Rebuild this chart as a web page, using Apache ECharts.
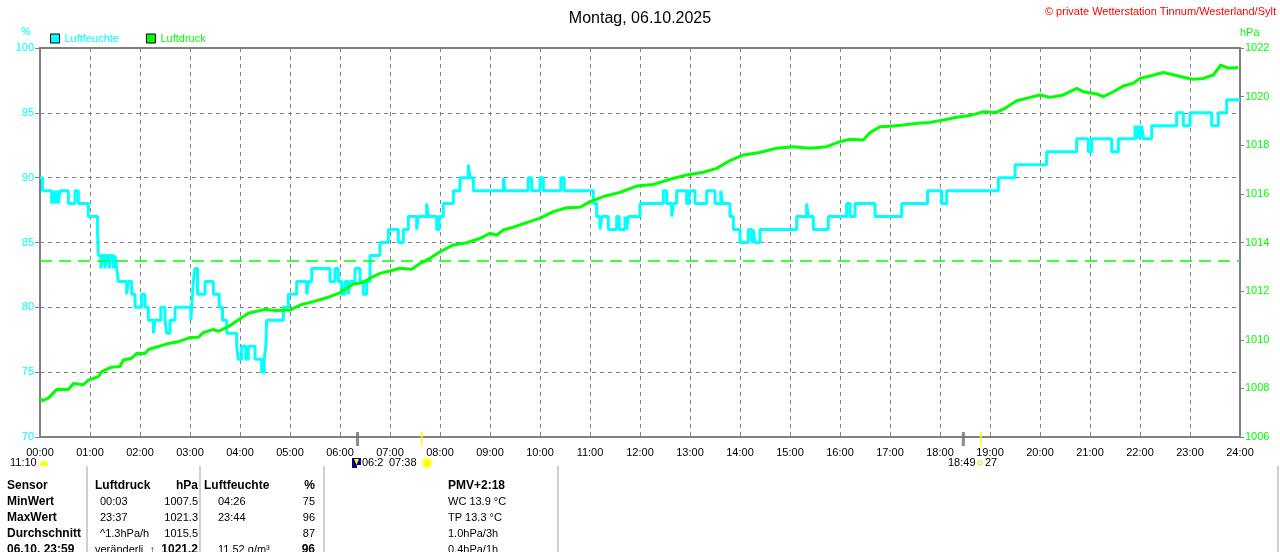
<!DOCTYPE html>
<html><head><meta charset="utf-8">
<script src="https://cdn.jsdelivr.net/npm/echarts/dist/echarts.min.js"></script>
<style>html,body{margin:0;padding:0;background:#fff}#c{width:1280px;height:552px}</style>
</head><body><div id="c"></div>
<script>
// ---- data ----
const xTickLabels = ['00:00','01:00','02:00','03:00','04:00','05:00','06:00','07:00','08:00','09:00','10:00','11:00','12:00','13:00','14:00','15:00','16:00','17:00','18:00','19:00','20:00','21:00','22:00','23:00','24:00'];
const humTicks = [70,75,80,85,90,95,100];
const presTicks = [1006,1008,1010,1012,1014,1016,1018,1020,1022];
// humidity (%) change points: minute of day -> value
const humTime = [0,3,14,16,18,20,22,24,34,42,46,58,69,70,73,75,78,80,83,85,88,90,92,94,104,106,110,114,122,126,130,136,138,145,150,152,156,162,181,182,184,186,189,198,208,215,219,224,236,238,242,247,250,258,266,269,271,272,292,298,308,320,322,326,348,354,358,362,366,370,372,378,384,388,392,396,408,418,430,436,442,452,454,464,466,476,479,484,496,504,514,516,520,556,558,586,590,600,604,625,629,664,668,672,674,682,692,695,702,704,706,720,748,752,758,760,764,776,779,786,800,810,817,819,828,832,840,850,854,856,858,864,908,920,922,928,946,968,972,978,1002,1034,1065,1082,1088,1150,1170,1208,1244,1258,1262,1286,1294,1314,1316,1318,1320,1322,1324,1334,1364,1372,1380,1406,1414,1424,1440];
const humValue = [90,89,88,89,88,89,88,89,88,89,88,87,86,84,83,84,83,84,83,84,83,84,83,82,81,82,81,80,81,80,79,78,79,80,79,78,79,80,79,80,82,83,81,82,81,80,79,78,77,76,77,76,77,76,75,76,77,79,80,81,82,81,82,83,82,83,82,81,82,81,82,83,82,81,82,84,85,86,85,86,87,86,87,88,87,86,87,88,89,90,91,90,89,90,89,90,89,90,89,90,89,88,87,86,87,86,87,86,87,86,87,88,89,88,87,88,89,88,89,88,89,88,89,88,87,86,85,86,85,86,85,86,87,88,87,86,87,88,87,88,87,88,89,88,89,90,91,92,93,92,93,92,93,94,93,94,93,94,93,94,95,94,95,94,95,96,96];
// air pressure (hPa): minute of day -> value
const presTime = [0,3,10,20,34,40,52,58,70,74,86,96,100,110,116,126,130,142,154,166,180,190,196,208,214,226,238,250,270,282,300,312,328,348,360,376,388,396,408,420,432,446,456,468,480,496,512,528,540,548,556,568,584,600,616,632,648,660,676,696,716,736,756,776,796,812,828,844,864,884,904,924,944,960,972,988,996,1008,1020,1036,1052,1068,1084,1100,1116,1132,1148,1160,1172,1188,1200,1212,1228,1244,1252,1268,1276,1288,1300,1312,1320,1332,1348,1360,1372,1384,1396,1408,1417,1426,1438];
const presValue = [1007.59,1007.5,1007.6,1007.96,1007.95,1008.2,1008.15,1008.34,1008.48,1008.69,1008.87,1008.9,1009.17,1009.24,1009.44,1009.43,1009.6,1009.72,1009.85,1009.92,1010.09,1010.1,1010.29,1010.43,1010.35,1010.54,1010.81,1011.09,1011.25,1011.2,1011.22,1011.43,1011.57,1011.77,1011.94,1012.29,1012.35,1012.53,1012.73,1012.83,1012.94,1012.9,1013.14,1013.35,1013.62,1013.9,1013.99,1014.17,1014.38,1014.3,1014.52,1014.63,1014.82,1015.0,1015.27,1015.43,1015.45,1015.68,1015.89,1016.06,1016.32,1016.39,1016.6,1016.78,1016.89,1017.05,1017.37,1017.6,1017.7,1017.88,1017.94,1017.88,1017.94,1018.15,1018.25,1018.22,1018.52,1018.76,1018.78,1018.83,1018.9,1018.94,1019.04,1019.15,1019.22,1019.38,1019.35,1019.56,1019.83,1019.97,1020.07,1019.97,1020.07,1020.34,1020.2,1020.11,1020.0,1020.2,1020.44,1020.55,1020.75,1020.85,1020.99,1020.9,1020.8,1020.71,1020.75,1020.89,1021.3,1021.17,1021.2];
const standardPressure = 1013.25;
// sun / twilight markers on the time axis (minutes)
const sunEventTime = [381, 458, 1108, 1129];
const sunEventKind = ['twilight','sun','twilight','sun'];
// info table
const tableRows = [
  ['Sensor','Luftdruck','hPa','Luftfeuchte','%','PMV+2:18'],
  ['MinWert','00:03','1007.5','04:26','75','WC 13.9 °C'],
  ['MaxWert','23:37','1021.3','23:44','96','TP 13.3 °C'],
  ['Durchschnitt','^1.3hPa/h','1015.5','','87','1.0hPa/3h'],
  ['06.10. 23:59','veränderlich','1021.2','11.52 g/m³','96','0.4hPa/1h']
];

// ---- chart ----
const FF = '"Liberation Sans", Arial, sans-serif';
const GRAY = '#808080';
const chart = echarts.init(document.getElementById('c'), null, {renderer:'canvas'});

const humData = humTime.map((t,i)=>[t, humValue[i]]);
const presData = presTime.map((t,i)=>[t, presValue[i]]);
const sunData = sunEventTime.map((t,i)=>({
  value:[t,70],
  symbolSize: sunEventKind[i]==='sun' ? [2,14] : [3,14],
  itemStyle:{color: sunEventKind[i]==='sun' ? '#ffff00' : '#707070'}
}));

// table graphics
const g = [];
const rowY = [486,502,518,534,550];
tableRows.forEach((r,i)=>{
  const bold = i===0;
  const y = rowY[i];
  g.push({type:'text', x:7, y:y, style:{text:r[0], font:'bold 12px '+FF, fill:'#000', verticalAlign:'middle'}});
  if(i===4){
    g.push({type:'text', x:95, y:y, style:{text:r[1], font:'11px '+FF, fill:'#000', width:52, overflow:'truncate', ellipsis:'', verticalAlign:'middle'}});
  } else {
    g.push({type:'text', x: i===0?95:100, y:y, style:{text:r[1], font:(bold?'bold 12px ':'11px ')+FF, fill:'#000', verticalAlign:'middle'}});
  }
  g.push({type:'text', x:198, y:y, style:{text:r[2], font:((bold||i===4)?'bold 12px ':'11px ')+FF, fill:'#000', align:'right', verticalAlign:'middle'}});
  g.push({type:'text', x: i===0?204:218, y:y, style:{text:r[3], font:(bold?'bold 12px ':'11px ')+FF, fill:'#000', verticalAlign:'middle'}});
  g.push({type:'text', x:315, y:y, style:{text:r[4], font:((bold||i===4)?'bold 12px ':'11px ')+FF, fill:'#000', align:'right', verticalAlign:'middle'}});
  g.push({type:'text', x:448, y:y, style:{text:r[5], font:(bold?'bold 12px ':'11px ')+FF, fill:'#000', verticalAlign:'middle'}});
});
[87,200,324,558,1278].forEach(x=>{
  g.push({type:'line', shape:{x1:x,y1:466,x2:x,y2:552}, style:{stroke:'#a0a0a0', lineWidth:1}});
});
// arrow in last row
g.push({type:'text', x:149, y:rowY[4], style:{text:'↑', font:'bold 13px '+FF, fill:'#1a3a9a', verticalAlign:'middle'}});
// header texts
g.push({type:'text', x:1276, y:12, style:{text:'© private Wetterstation Tinnum/Westerland/Sylt', font:'11px '+FF, fill:'#ff0000', align:'right', verticalAlign:'middle'}});
g.push({type:'text', x:26, y:32, style:{text:'%', font:'11px '+FF, fill:'#00ffff', align:'center', verticalAlign:'middle'}});
g.push({type:'text', x:1240, y:33, style:{text:'hPa', font:'11px '+FF, fill:'#00ff00', align:'left', verticalAlign:'middle'}});
// below-axis annotations
g.push({type:'text', x:10, y:463, style:{text:'11:10', font:'11px '+FF, fill:'#000', verticalAlign:'middle'}});
g.push({type:'rect', shape:{x:40,y:461,width:8,height:5,r:[4,4,0,0]}, style:{fill:'#ffff00'}});
g.push({type:'rect', shape:{x:352,y:458,width:9,height:10}, style:{fill:'#000080'}});
g.push({type:'polygon', shape:{points:[[354,459],[359,459],[356.5,465]]}, style:{fill:'#ffff00'}});
g.push({type:'rect', shape:{x:357,y:465,width:4,height:3}, style:{fill:'#ffffff'}});
g.push({type:'text', x:362, y:463, style:{text:'06:2', font:'11px '+FF, fill:'#000', verticalAlign:'middle'}});
g.push({type:'text', x:389, y:463, style:{text:'07:38', font:'11px '+FF, fill:'#000', verticalAlign:'middle'}});
g.push({type:'circle', shape:{cx:427,cy:463,r:6}, style:{fill:'#ffffa0'}});
g.push({type:'circle', shape:{cx:427,cy:463,r:4}, style:{fill:'#ffff00'}});
g.push({type:'text', x:948, y:463, style:{text:'18:49', font:'11px '+FF, fill:'#000', verticalAlign:'middle'}});
g.push({type:'rect', shape:{x:978,y:461,width:4,height:4,r:1}, style:{fill:'none', stroke:'#e0e000', lineWidth:1}});
g.push({type:'text', x:985, y:463, style:{text:'27', font:'11px '+FF, fill:'#000', verticalAlign:'middle'}});

chart.setOption({
  animation:false,
  backgroundColor:'#ffffff',
  title:{text:'Montag, 06.10.2025', left:'center', top:6, textStyle:{fontSize:16, fontWeight:'normal', color:'#000', fontFamily:FF}},
  legend:{left:50, top:33, padding:0, itemWidth:9, itemHeight:9, itemGap:27, icon:'rect',
    itemStyle:{borderColor:'#000', borderWidth:1},
    textStyle:{fontSize:11, fontFamily:FF},
    data:[{name:'Luftfeuchte', textStyle:{color:'#00ffff'}},{name:'Luftdruck', textStyle:{color:'#00ff00'}}]},
  grid:{left:40, right:40, top:48, bottom:115, show:true, borderColor:GRAY, borderWidth:2, backgroundColor:'transparent'},
  xAxis:{type:'value', min:0, max:1440, interval:60,
    axisLine:{show:true, onZero:false, lineStyle:{color:GRAY, width:2}},
    axisTick:{show:false},
    axisLabel:{color:'#000', fontSize:11, fontFamily:FF, margin:10, formatter:v=>xTickLabels[Math.round(v/60)]},
    splitLine:{show:true, lineStyle:{color:GRAY, width:1, type:[4,4]}}},
  yAxis:[
    {type:'value', min:humTicks[0], max:humTicks[humTicks.length-1], interval:5, position:'left',
      axisLine:{show:true, lineStyle:{color:GRAY, width:2}},
      axisTick:{show:true, length:5, lineStyle:{color:GRAY}},
      axisLabel:{color:'#00ffff', fontSize:11, fontFamily:FF, margin:6, formatter:v=>String(v)},
      splitLine:{show:true, lineStyle:{color:GRAY, width:1, type:[4,4]}}},
    {type:'value', min:presTicks[0], max:presTicks[presTicks.length-1], interval:2, position:'right',
      axisLine:{show:true, lineStyle:{color:GRAY, width:2}},
      axisTick:{show:true, length:4, lineStyle:{color:GRAY}},
      axisLabel:{color:'#00ff00', fontSize:11, fontFamily:FF, margin:5, formatter:v=>String(v)},
      splitLine:{show:false}}
  ],
  series:[
    {name:'Luftfeuchte', type:'line', yAxisIndex:0, step:'end', data:humData, symbol:'none',
      lineStyle:{color:'#00ffff', width:3}, itemStyle:{color:'#00ffff'}, z:3},
    {name:'Luftdruck', type:'line', yAxisIndex:1, data:presData, symbol:'none',
      lineStyle:{color:'#00ff00', width:3}, itemStyle:{color:'#00ff00'}, z:4,
      markLine:{silent:true, symbol:'none', label:{show:false},
        lineStyle:{color:'#00ff00', width:1.5, type:[12,7]},
        data:[{yAxis:standardPressure}]}},
    {name:'sun', type:'scatter', yAxisIndex:0, data:sunData, symbol:'rect', symbolOffset:[0,2], clip:false, silent:true, z:6}
  ],
  graphic:g
});
</script></body></html>
